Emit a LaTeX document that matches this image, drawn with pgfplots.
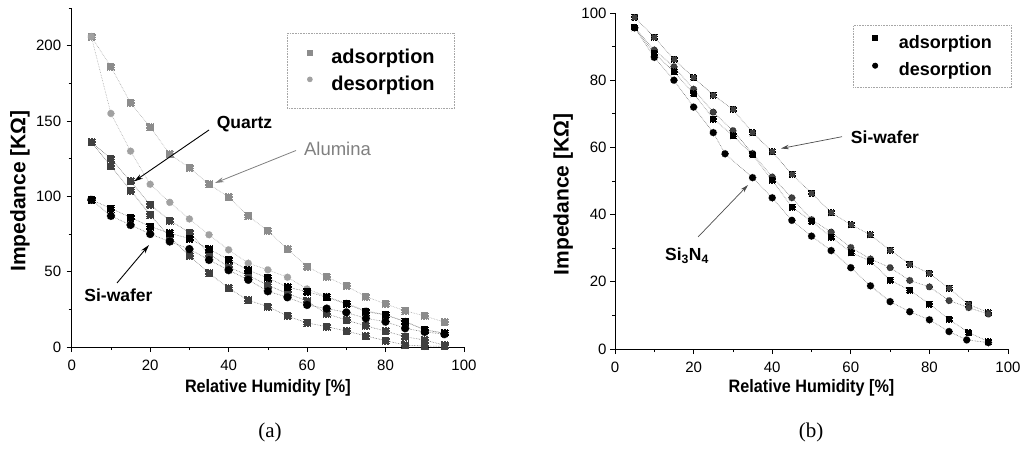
\documentclass[border=0pt]{standalone}
\usepackage{fontspec}
\setmainfont{Liberation Sans}
\newfontfamily\serifcap{Liberation Serif}
\newfontfamily\narrowsans[FakeStretch=0.9]{Liberation Sans}
\usepackage{pgfplots}
\pgfplotsset{compat=1.18}
\usetikzlibrary{arrows.meta}

\definecolor{alg}{gray}{0.55}
\definecolor{alc}{gray}{0.63}
\definecolor{qz}{gray}{0.25}
\definecolor{lin}{gray}{0.45}
\definecolor{linl}{gray}{0.65}

\pgfplotsset{
  pan/.style={
    scale only axis,
    axis lines=left,
    axis line style={-, line width=0.8pt},
    tick align=outside,
    major tick length=5pt, minor tick length=3pt,
    tick style={line width=0.7pt, black},
    tick label style={font=\fontsize{15}{18}\selectfont},
    xticklabel style={yshift=-4pt},
    /pgf/number format/assume math mode=true,
    xmin=0, xmax=100, xtick={0,20,...,100}, minor xtick={10,30,...,90},
    clip=false,
    legend cell align=left,
    xlabel={Relative Humidity [\%]},
    ylabel={Impedance [KΩ]},
    xlabel style={font=\narrowsans\bfseries\fontsize{18}{21}\selectfont, anchor=center},
    ylabel style={font=\bfseries\fontsize{21}{25}\selectfont, at={(axis description cs:-0.132,0.46)}, anchor=center},
  },
  ser/.style={densely dotted, line width=0.6pt, draw=lin, mark options={solid}},
  serl/.style={densely dotted, line width=0.6pt, draw=linl, mark options={solid}},
}

\begin{document}
\begin{tikzpicture}
\useasboundingbox (0pt,0pt) rectangle (1031pt,450pt);

% ---------------- (a) ----------------
\begin{axis}[pan,
  at={(71.7pt,103pt)}, anchor=south west,
  width=392.3pt, height=339pt,
  ymin=0, ymax=225, ytick={0,50,...,200}, minor ytick={25,75,...,225},
  yticklabel style={xshift=-2pt},
  xlabel style={at={(axis description cs:0.5,-0.121)}},
  legend style={at={(axis description cs:0.549,0.926)}, anchor=north west,
    draw=gray!70, densely dotted, line width=0.6pt,
    font=\bfseries\fontsize{20}{24}\selectfont,
    inner xsep=20pt, inner ysep=16pt, row sep=11pt, column sep=19pt,
    nodes={inner sep=0pt, solid}},
  legend image code/.code={\draw[#1, solid] plot coordinates {(0pt,5pt)};},
]
\addlegendimage{only marks, mark=square*, mark size=2.5pt, alg}
\addlegendentry{adsorption}
\addlegendimage{only marks, mark=*, mark size=2.5pt, alc}
\addlegendentry{desorption}

% Alumina adsorption
\addplot[serl, mark=square*, mark size=3.5pt, mark options={fill=alg, draw=alg}, forget plot] coordinates {
(5,206) (10,186) (15,162) (20,146) (25,128) (30,119) (35,108) (40,99.5) (45,87) (50,77)
(55,65) (60,53.4) (65,46.5) (70,40.5) (75,33.4) (80,28.6) (85,24) (90,20.6) (95,16.5)};
% Alumina desorption
\addplot[serl, mark=*, mark size=3.5pt, mark options={fill=alc, draw=alc}, forget plot] coordinates {
(5,206) (10,155) (15,130) (20,108) (25,96) (30,85) (35,74.5) (40,64.5) (45,55.6) (50,51.2)
(55,46.3) (60,38.5) (65,33.5) (70,29) (75,24) (80,21.5) (85,17) (90,11.5) (95,9.3)};
% Quartz adsorption
\addplot[ser, mark=square*, mark size=3.5pt, mark options={fill=qz, draw=qz}, forget plot] coordinates {
(5,136) (10,125) (15,110) (20,94.4) (25,84) (30,76) (35,62) (40,53) (45,47.5) (50,41)
(55,35.5) (60,30.5) (65,22) (70,17.9) (75,14) (80,10.6) (85,6.8) (90,4.6) (95,1.2)};
% Quartz desorption
\addplot[ser, mark=square*, mark size=3.5pt, mark options={fill=qz, draw=qz}, forget plot] coordinates {
(5,136) (10,120) (15,104) (20,87.7) (25,73) (30,60.5) (35,49) (40,39) (45,31) (50,26.8)
(55,20.6) (60,16) (65,13.5) (70,10.6) (75,7.3) (80,4.2) (85,1.3) (90,0.6) (95,0.5)};
% Si-wafer adsorption
\addplot[ser, mark=square*, mark size=3.5pt, mark options={fill=black, draw=black}, forget plot] coordinates {
(5,97.7) (10,92) (15,86) (20,80) (25,75.5) (30,72) (35,65) (40,58) (45,51) (50,45.8)
(55,39.7) (60,36.8) (65,33) (70,28.6) (75,23.5) (80,21.3) (85,16.8) (90,11.3) (95,9.1)};
% Si-wafer desorption
\addplot[ser, mark=*, mark size=4pt, mark options={fill=black, draw=black}, forget plot] coordinates {
(5,97.7) (10,87) (15,81) (20,75) (25,70) (30,65) (35,57.8) (40,51) (45,44.6) (50,37)
(55,33) (60,27.9) (65,25.5) (70,23) (75,19) (80,16.8) (85,12.4) (90,10) (95,8.5)};
\end{axis}

% ---------------- (b) ----------------
\begin{axis}[pan,
  at={(615pt,101pt)}, anchor=south west,
  width=393pt, height=336pt,
  ymin=0, ymax=100, ytick={0,20,...,100}, minor ytick={10,30,...,90},
  xlabel style={at={(axis description cs:0.5,-0.116)}},
  legend style={at={(axis description cs:0.606,0.964)}, anchor=north west,
    draw=gray!70, densely dotted, line width=0.6pt,
    font=\bfseries\fontsize{18}{22}\selectfont,
    inner xsep=19pt, inner ysep=10pt, row sep=13pt, column sep=21pt,
    nodes={inner sep=0pt, solid}},
  legend image code/.code={\draw[#1, solid] plot coordinates {(0pt,4.5pt)};},
]
\addlegendimage{only marks, mark=square*, mark size=2.5pt, black}
\addlegendentry{adsorption}
\addlegendimage{only marks, mark=*, mark size=2.7pt, black}
\addlegendentry{desorption}

% Si-wafer adsorption
\addplot[ser, mark=square*, mark size=3pt, mark options={fill=qz, draw=black}, forget plot] coordinates {
(5,98.7) (10,92.8) (15,86.2) (20,80.8) (25,75.6) (30,71.3) (35,64.4) (40,58.7) (45,52) (50,46.4)
(55,40.6) (60,37) (65,34) (70,29.4) (75,25.3) (80,22.5) (85,18.1) (90,13.3) (95,10.8)};
% Si-wafer desorption
\addplot[ser, mark=*, mark size=3.3pt, mark options={fill=qz, draw=black}, forget plot] coordinates {
(5,95.6) (10,89) (15,84) (20,77.3) (25,70.5) (30,65) (35,58.2) (40,51.2) (45,45) (50,38.5)
(55,34.8) (60,30.2) (65,26.8) (70,24.2) (75,20.4) (80,18.5) (85,14.4) (90,12.3) (95,10.4)};
% Si3N4 adsorption
\addplot[ser, mark=square*, mark size=3pt, mark options={fill=black, draw=black}, forget plot] coordinates {
(5,95.6) (10,88) (15,82.5) (20,76) (25,68.5) (30,63.5) (35,57.8) (40,50.2) (45,42.3) (50,38)
(55,33.3) (60,28.7) (65,26.2) (70,20.5) (75,17.5) (80,13.4) (85,8.8) (90,4.9) (95,2.2)};
% Si3N4 desorption
\addplot[ser, mark=*, mark size=3.5pt, mark options={fill=black, draw=black}, forget plot] coordinates {
(5,95.6) (10,86.8) (15,80) (20,72) (25,64.4) (28,58.1) (35,51) (40,45) (45,38.3) (50,33.6)
(55,29.3) (60,24.2) (65,18.8) (70,14.1) (75,11.1) (80,8.7) (85,5.2) (89.5,2.7) (95,1.9)};
\end{axis}

% ---------------- annotations ----------------
\node[font=\bfseries\fontsize{17.5}{20}\selectfont] at (244.5pt,326pt) {Quartz};
\draw[line width=0.9pt,-{Stealth[length=9pt,width=5pt]}] (209pt,320pt) -- (134pt,268.5pt);
\node[font=\fontsize{18.5}{22}\selectfont, text=gray] at (337.5pt,301pt) {Alumina};
\draw[gray, line width=0.8pt,-{Stealth[length=9pt,width=5pt]}] (296pt,299.5pt) -- (215pt,267pt);
\node[font=\bfseries\fontsize{17.5}{20}\selectfont] at (118.5pt,155pt) {Si-wafer};
\draw[line width=0.9pt,-{Stealth[length=9pt,width=5pt]}] (117pt,167pt) -- (149pt,205pt);

\node[font=\bfseries\fontsize{17.5}{20}\selectfont] at (885pt,313pt) {Si-wafer};
\draw[gray!60!black, line width=0.7pt,-{Stealth[length=8pt,width=4.5pt]}] (842pt,313.3pt) -- (781pt,301.5pt);
\node[font=\bfseries\fontsize{17.5}{20}\selectfont] at (687pt,194pt) {Si\textsubscript{3}N\textsubscript{4}};
\draw[gray!60!black, line width=0.7pt,-{Stealth[length=8pt,width=4.5pt]}] (698pt,213pt) -- (748pt,265pt);

\node[font=\serifcap\fontsize{21}{25}\selectfont] at (270pt,18pt) {(a)};
\node[font=\serifcap\fontsize{21}{25}\selectfont] at (811pt,18pt) {(b)};
\end{tikzpicture}
\end{document}
